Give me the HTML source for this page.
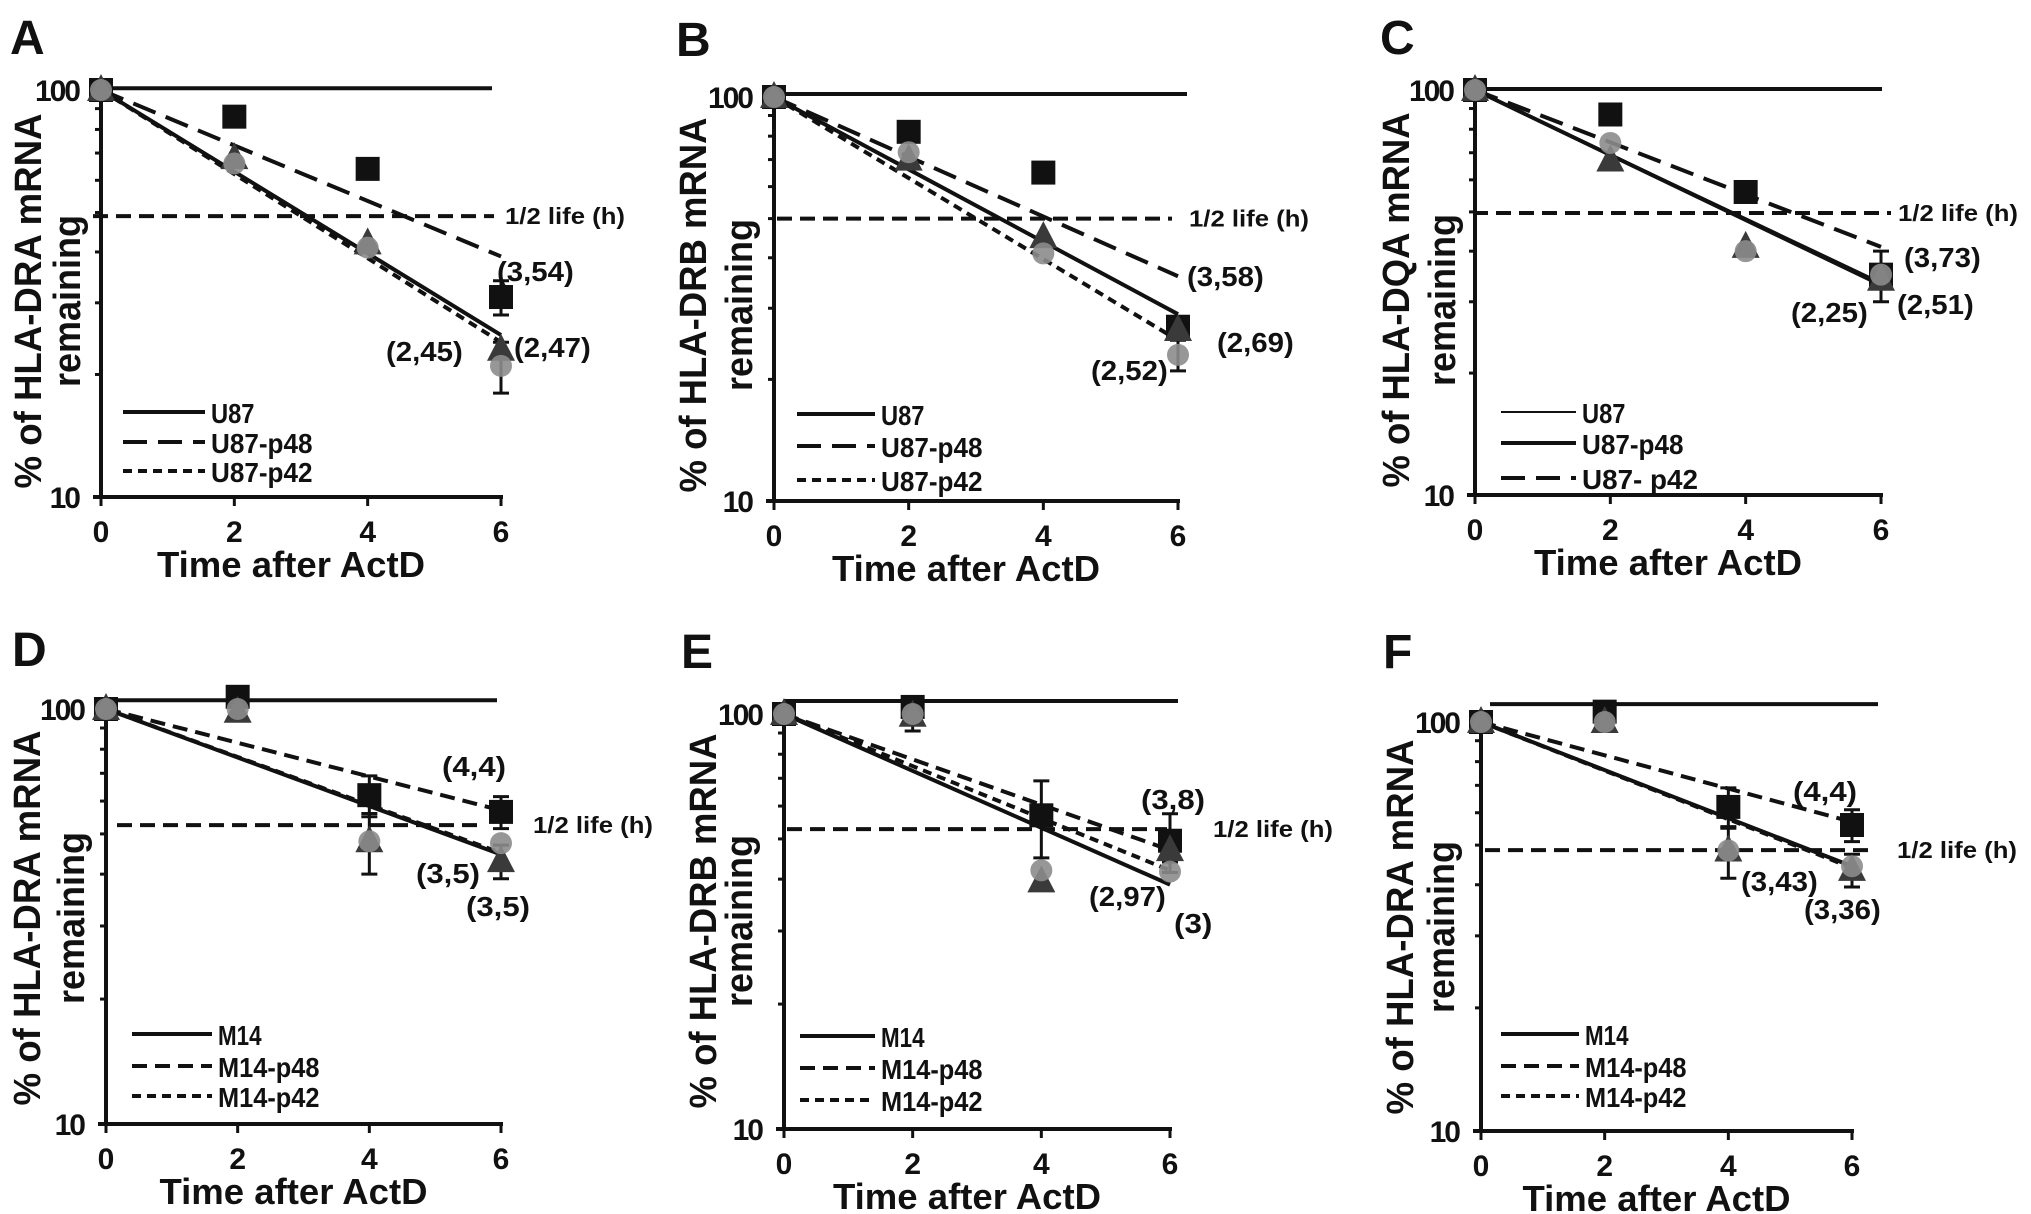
<!DOCTYPE html>
<html><head><meta charset="utf-8"><title>mRNA decay panels</title>
<style>
html,body{margin:0;padding:0;background:#fff;}
svg{display:block;}
text{font-family:"Liberation Sans",Arial,sans-serif;font-weight:bold;fill:#111;}
</style></head>
<body>
<svg id="fig" width="2031" height="1214" viewBox="0 0 2031 1214" xmlns="http://www.w3.org/2000/svg"></svg>
<script>
// ---------- data ----------
const timeTicks = [0, 2, 4, 6];
const yTickLabels = ["100", "10"];
const minorTicks = [20, 30, 40, 50, 60, 70, 80, 90];
const A_tri = [100, 68, 42, 23];
const A_circ = [100, 66, 41, 21];
const A_sq = [100, 86, 64, 31];
const A_fitEnd = [25, 39, 24];
const B_tri = [100, 70, 45, 26.5];
const B_circ = [100, 73, 41, 23];
const B_sq = [100, 82, 65, 27];
const B_fitEnd = [29, 36, 25];
const C_tri = [100, 67, 41, 34];
const C_circ = [100, 74, 40, 35];
const C_sq = [100, 87, 56, 35];
const C_fitEnd = [33.5, 33, 41];
const D_tri = [100, 98.5, 48, 43];
const D_circ = [100, 100, 48, 47.5];
const D_sq = [100, 107, 62, 56.5];
const D_fitEnd = [44.6, 57, 45];
const E_tri = [100, 99, 39.5, 47];
const E_circ = [100, 100, 42, 41.7];
const E_sq = [100, 104, 57, 49.5];
const E_fitEnd = [38.8, 47, 42];
const F_tri = [100, 100, 48.5, 43.5];
const F_circ = [100, 100, 48.5, 44.4];
const F_sq = [100, 106, 62, 56];
const F_fitEnd = [44.4, 57, 44];
const A_sqErr = [0, 0, 0, 3];
const A_circErr = [0, 0, 0, 3];
const B_circErr = [0, 0, 0, 2];
const C_circErr = [0, 0, 0, 5];
const D_sqErr = [0, 0, 7, 5];
const D_triErr = [0, 0, 8, 4];
const E_sqErr = [0, 0, 12, 8];
const E_triErr = [0, 8, 0, 3];
const F_sqErr = [0, 0, 7, 5];
const F_triErr = [0, 0, 7, 4];
const refLevel = [101, 101.7, 100.6, 105, 107.5, 110.6];
const halfLevel = [49, 50, 49.7, 52.5, 52.8, 48.6];

const panels = [
 {L:'A',ax:101,x6:501,y100:90,y10:497,rx:[101,492],hx:[93,494],hlx:505,leg:[123,205],legY:[412,442,471],lx:10,ly:54,
  yt:'% of HLA-DRA mRNA',yt1:29,yt2:68,ytc:301,tri:A_tri,circ:A_circ,sq:A_sq,fit:A_fitEnd,sqE:A_sqErr,circE:A_circErr,triE:null,
  styles:['solid','long','short'],names:['U87','U87-p48','U87-p42'],
  ann:[['(3,54)',497,271],['(2,45)',386,351],['(2,47)',514,347]]},
 {L:'B',ax:774,x6:1178,y100:97,y10:501,rx:[774,1187],hx:[777,1172],hlx:1189,leg:[797,875],legY:[414,446,480],lx:676,ly:56,
  yt:'% of HLA-DRB mRNA',yt1:694,yt2:740,ytc:305,tri:B_tri,circ:B_circ,sq:B_sq,fit:B_fitEnd,sqE:null,circE:B_circErr,triE:null,
  styles:['solid','long','short'],names:['U87','U87-p48','U87-p42'],
  ann:[['(3,58)',1187,276],['(2,69)',1217,342],['(2,52)',1091,370]]},
 {L:'C',ax:1475,x6:1881,y100:90,y10:495,rx:[1475,1882],hx:[1473,1891],hlx:1898,leg:[1501,1576],legY:[412,443,478],lx:1380,ly:54,
  yt:'% of HLA-DQA mRNA',yt1:1397,yt2:1443,ytc:300,tri:C_tri,circ:C_circ,sq:C_sq,fit:C_fitEnd,sqE:null,circE:C_circErr,triE:null,
  styles:['thin','solid','long'],names:['U87','U87-p48','U87- p42'],
  ann:[['(3,73)',1904,257],['(2,51)',1897,304],['(2,25)',1791,312]]},
 {L:'D',ax:106,x6:501,y100:709,y10:1124,rx:[106,497],hx:[117,481],hlx:533,leg:[132,212],legY:[1034,1066,1096],lx:12,ly:666,
  yt:'% of HLA-DRA mRNA',yt1:28,yt2:72,ytc:918,tri:D_tri,circ:D_circ,sq:D_sq,fit:D_fitEnd,sqE:D_sqErr,circE:null,triE:D_triErr,
  styles:['solid','med','short'],names:['M14','M14-p48','M14-p42'],
  ann:[['(4,4)',442,766],['(3,5)',416,873],['(3,5)',466,906]]},
 {L:'E',ax:784,x6:1170,y100:714,y10:1129,rx:[784,1178],hx:[787,1167],hlx:1213,leg:[800,875],legY:[1036,1068,1100],lx:681,ly:668,
  yt:'% of HLA-DRB mRNA',yt1:704,yt2:740,ytc:921,tri:E_tri,circ:E_circ,sq:E_sq,fit:E_fitEnd,sqE:E_sqErr,circE:null,triE:E_triErr,
  styles:['solid','med','short'],names:['M14','M14-p48','M14-p42'],
  ann:[['(3,8)',1141,799],['(2,97)',1089,896],['(3)',1174,923]]},
 {L:'F',ax:1481,x6:1852,y100:722,y10:1131,rx:[1490,1878],hx:[1485,1876],hlx:1897,leg:[1501,1579],legY:[1034,1066,1096],lx:1383,ly:668,
  yt:'% of HLA-DRA mRNA',yt1:1401,yt2:1442,ytc:927,tri:F_tri,circ:F_circ,sq:F_sq,fit:F_fitEnd,sqE:F_sqErr,circE:null,triE:F_triErr,
  styles:['solid','med','short'],names:['M14','M14-p48','M14-p42'],
  ann:[['(4,4)',1793,791],['(3,43)',1741,881],['(3,36)',1804,909]]}
];

const NS='http://www.w3.org/2000/svg';
const svg=document.getElementById('fig');
function mk(tag,attrs,parent){const e=document.createElementNS(NS,tag);for(const k in attrs)e.setAttribute(k,attrs[k]);(parent||svg).appendChild(e);return e;}
function dash(s){return s==='long'?'24 11':s==='med'?'15 8':s==='short'?'9 6':'none';}
function sw(s){return s==='thin'?2:4;}

panels.forEach((p,pi)=>{
  const g=mk('g',{});
  
  
  const sx=t=>p.ax+(t-timeTicks[0])/(timeTicks[3]-timeTicks[0])*(p.x6-p.ax);
  const sy=v=>p.y100+(2-Math.log10(v))*(p.y10-p.y100);

  const letter=mk('text',{x:p.lx,y:p.ly,'font-size':48},g);letter.textContent=p.L;
  
  

  const ya=mk('line',{x1:p.ax,y1:p.y100-6,x2:p.ax,y2:p.y10+2,stroke:'#111','stroke-width':4},g);
  
  
  const xa=mk('line',{x1:p.ax-8,y1:p.y10,x2:p.x6+2,y2:p.y10,stroke:'#111','stroke-width':4},g);
  
  
  minorTicks.forEach(v=>{mk('line',{x1:p.ax-6,y1:sy(v),x2:p.ax,y2:sy(v),stroke:'#111','stroke-width':3},g);});
  [100,10].forEach((v,i)=>{
    mk('line',{x1:p.ax-8,y1:sy(v),x2:p.ax,y2:sy(v),stroke:'#111','stroke-width':3},g);
    const t=mk('text',{x:p.ax-22,y:sy(v)+11,'font-size':30,'text-anchor':'end','letter-spacing':'-2'},g);t.textContent=yTickLabels[i];
    
    
  });
  timeTicks.forEach(tk=>{
    mk('line',{x1:sx(tk),y1:p.y10,x2:sx(tk),y2:p.y10+9,stroke:'#111','stroke-width':3},g);
    const t=mk('text',{x:sx(tk),y:p.y10+45,'font-size':30,'text-anchor':'middle'},g);t.textContent=tk;
    
    
  });
  const xt=mk('text',{x:(p.ax+p.x6)/2-10,y:p.y10+80,'font-size':36,'text-anchor':'middle',textLength:268,lengthAdjust:'spacingAndGlyphs'},g);
  xt.textContent='Time after ActD';
  
  
  const y1=mk('text',{x:p.yt1,y:p.ytc,'font-size':38,'text-anchor':'middle','dominant-baseline':'central',textLength:375,lengthAdjust:'spacingAndGlyphs',transform:`rotate(-90 ${p.yt1} ${p.ytc})`},g);
  y1.textContent=p.yt;
  
  
  const y2=mk('text',{x:p.yt2,y:p.ytc,'font-size':38,'text-anchor':'middle','dominant-baseline':'central',textLength:172,lengthAdjust:'spacingAndGlyphs',transform:`rotate(-90 ${p.yt2} ${p.ytc})`},g);
  y2.textContent='remaining';
  
  

  const rl=mk('line',{x1:p.rx[0],y1:sy(refLevel[pi]),x2:p.rx[1],y2:sy(refLevel[pi]),stroke:'#111','stroke-width':4},g);
  
  
  const hl=mk('line',{x1:p.hx[0],y1:sy(halfLevel[pi]),x2:p.hx[1],y2:sy(halfLevel[pi]),stroke:'#111','stroke-width':4,'stroke-dasharray':'15 8'},g);
  
  
  const hlt=mk('text',{x:p.hlx,y:sy(halfLevel[pi])+8,'font-size':23,textLength:120,lengthAdjust:'spacingAndGlyphs'},g);
  hlt.textContent='1/2 life (h)';
  
  

  p.fit.forEach((endV,i)=>{
    const l=mk('line',{x1:sx(0),y1:sy(100),x2:sx(6),y2:sy(endV),stroke:'#111','stroke-width':sw(p.styles[i]),'stroke-dasharray':dash(p.styles[i])},g);
    
    
  });

  function errs(vals,err){ if(!err)return; vals.forEach((v,i)=>{ if(!err[i])return;
    const x=sx(timeTicks[i]),ya2=sy(v+err[i]),yb=sy(Math.max(v-err[i],1));
    const e=mk('path',{d:`M${x},${ya2}V${yb}M${x-8},${ya2}H${x+8}M${x-8},${yb}H${x+8}`,stroke:'#111','stroke-width':3,fill:'none'},g);
    
    
  });}
  errs(p.sq,p.sqE);errs(p.circ,p.circE);errs(p.tri,p.triE);

  p.sq.forEach((v,i)=>{const x=sx(timeTicks[i]),y=sy(v);
    const r=mk('rect',{x:x-12,y:y-12,width:24,height:24,fill:'#111'},g);
    
    });
  p.tri.forEach((v,i)=>{const x=sx(timeTicks[i]),y=sy(v);
    const t=mk('polygon',{points:`${x},${y-16} ${x-14},${y+11} ${x+14},${y+11}`,fill:'#3a3a3a'},g);
    
    });
  p.circ.forEach((v,i)=>{const x=sx(timeTicks[i]),y=sy(v);
    const c=mk('circle',{cx:x,cy:y,r:11,fill:'#8c8c8c','fill-opacity':0.9},g);
    
    });

  p.ann.forEach(a=>{const t=mk('text',{x:a[1],y:a[2]+10,'font-size':28,textLength:a[0].length*12.8,lengthAdjust:'spacingAndGlyphs'},g);t.textContent=a[0];
    
    });

  p.names.forEach((n,i)=>{
    const y=p.legY[i];
    const l=mk('line',{x1:p.leg[0],y1:y,x2:p.leg[1],y2:y,stroke:'#111','stroke-width':sw(p.styles[i]),'stroke-dasharray':dash(p.styles[i])},g);
    
    
    const t=mk('text',{x:p.leg[1]+6,y:y+11,'font-size':28,textLength:n.length*14.5,lengthAdjust:'spacingAndGlyphs'},g);t.textContent=n;
    
    
  });
});
</script>
</body></html>
